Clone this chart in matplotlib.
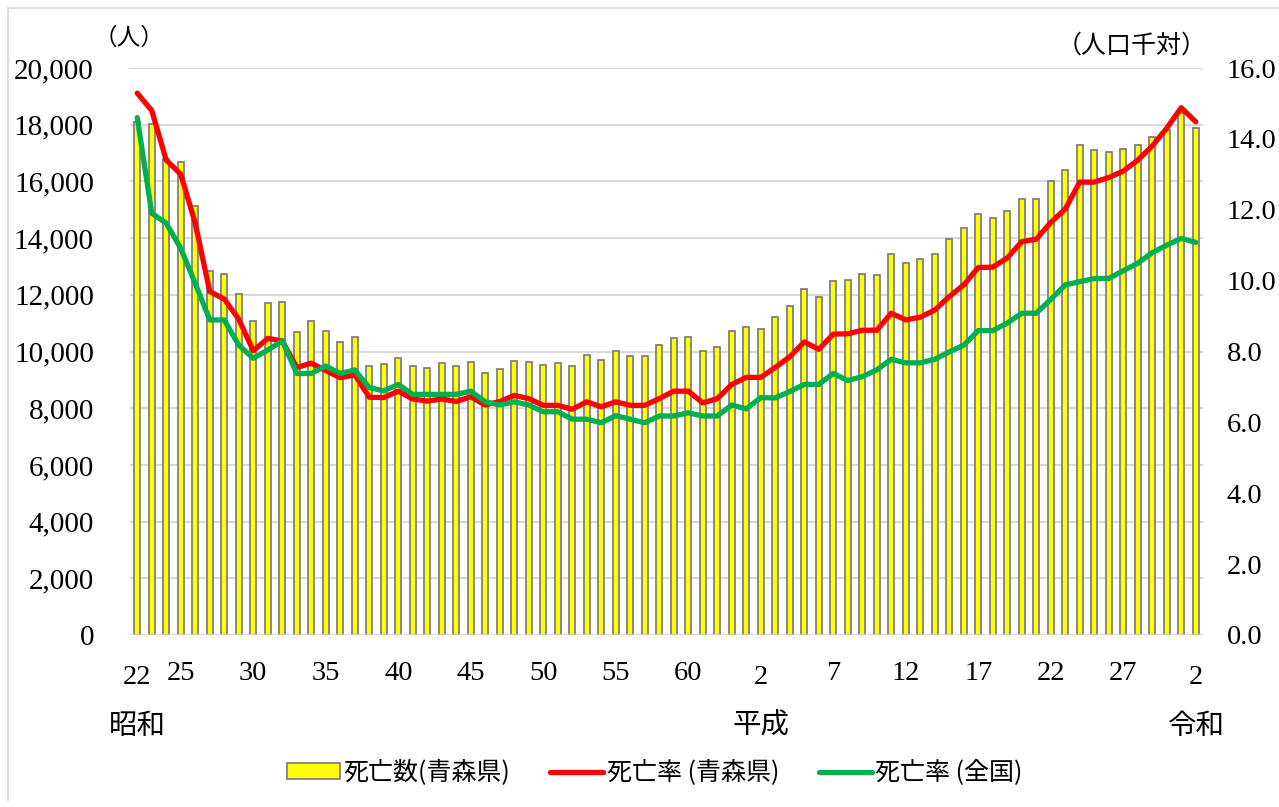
import matplotlib
matplotlib.use("Agg")
import matplotlib.pyplot as plt
import matplotlib.transforms as mtransforms
from matplotlib.patches import Patch
from matplotlib.lines import Line2D
import numpy as np

# ---------------- data ----------------
years = list(range(1947, 2021))  # 昭和22年 ～ 令和2年

deaths_aomori = [
    18080, 18020, 16800, 16690, 15130, 12850, 12720, 12030, 11060, 11720,
    11730, 10690, 11070, 10720, 10320, 10520, 9480, 9550, 9770, 9480,
    9430, 9590, 9500, 9640, 9250, 9400, 9680, 9620, 9540, 9600,
    9490, 9890, 9710, 10030, 9850, 9840, 10220, 10460, 10520, 10020,
    10170, 10730, 10870, 10780, 11220, 11600, 12190, 11920, 12490, 12530,
    12740, 12710, 13430, 13120, 13250, 13430, 13980, 14340, 14860, 14710,
    14960, 15380, 15370, 16010, 16410, 17270, 17100, 17030, 17130, 17290,
    17560, 17800, 18420, 17900,
]

rate_aomori = [
    15.29, 14.80, 13.40, 13.00, 11.62, 9.69, 9.48, 8.91, 8.02, 8.37,
    8.30, 7.55, 7.67, 7.46, 7.26, 7.34, 6.71, 6.70, 6.88, 6.66,
    6.60, 6.66, 6.59, 6.72, 6.49, 6.59, 6.76, 6.67, 6.48, 6.48,
    6.37, 6.58, 6.44, 6.58, 6.48, 6.48, 6.67, 6.88, 6.88, 6.55,
    6.67, 7.07, 7.27, 7.27, 7.55, 7.85, 8.27, 8.06, 8.49, 8.50,
    8.60, 8.60, 9.08, 8.89, 8.97, 9.17, 9.55, 9.88, 10.37, 10.38,
    10.64, 11.10, 11.17, 11.64, 12.02, 12.78, 12.78, 12.91, 13.09, 13.40,
    13.80, 14.30, 14.88, 14.48,
]

rate_japan = [
    14.60, 11.90, 11.62, 10.91, 9.92, 8.89, 8.89, 8.18, 7.81, 8.04,
    8.30, 7.38, 7.38, 7.59, 7.38, 7.48, 6.98, 6.89, 7.07, 6.79,
    6.79, 6.79, 6.79, 6.88, 6.58, 6.49, 6.58, 6.49, 6.30, 6.30,
    6.09, 6.09, 5.99, 6.19, 6.09, 5.99, 6.18, 6.18, 6.27, 6.18,
    6.18, 6.49, 6.38, 6.70, 6.69, 6.87, 7.07, 7.07, 7.38, 7.18,
    7.29, 7.48, 7.78, 7.68, 7.68, 7.78, 7.99, 8.18, 8.59, 8.59,
    8.80, 9.08, 9.08, 9.47, 9.88, 9.97, 10.06, 10.06, 10.28, 10.49,
    10.79, 11.00, 11.19, 11.08,
]

tick_years = [1947, 1950, 1955, 1960, 1965, 1970, 1975, 1980, 1985,
              1990, 1995, 2000, 2005, 2010, 2015, 2020]
tick_labels = ["22", "25", "30", "35", "40", "45", "50", "55", "60",
               "2", "7", "12", "17", "22", "27", "2"]
low_labels = {1947, 1990, 2020}   # labels drawn slightly lower in the original

era_years = [1947, 1990, 2020]
era_labels = ["昭和", "平成", "令和"]

left_ticks = [0, 2000, 4000, 6000, 8000, 10000, 12000, 14000, 16000, 18000, 20000]
right_ticks = [0, 2, 4, 6, 8, 10, 12, 14, 16]

legend_labels = ["死亡数(青森県)", "死亡率 (青森県)", "死亡率 (全国)"]

# ---------------- figure ----------------
W, H = 1279, 807
fig = plt.figure(figsize=(W / 100, H / 100), dpi=100)
fig.patch.set_facecolor("white")

def fx(px):
    return px / W

def fy(py):
    return 1 - py / H

cjk = ["Noto Sans CJK JP", "DejaVu Sans"]
serif = ["Liberation Serif", "DejaVu Serif"]

ax = fig.add_axes([fx(130), fy(635), fx(1203) - fx(130), fy(68) - fy(635)])
ax2 = ax.twinx()

x = np.arange(len(years))

ax.bar(x, deaths_aomori, width=0.42, color="#FFFF00", edgecolor="#808080",
       linewidth=1.3, zorder=3)
ax.set_xlim(-0.5, len(years) - 0.5)
ax.set_ylim(0, 20000)
ax.set_yticks(left_ticks)
ax.set_yticklabels([f"{v:,}" for v in left_ticks], fontfamily=serif, fontsize=21)
ax.tick_params(axis="y", length=0, pad=26)
ax.grid(axis="y", color="#D9D9D9", linewidth=1.5, zorder=0)
ax.set_axisbelow(True)
for s in ax.spines.values():
    s.set_visible(False)
ax.axhline(0, color="#D9D9D9", linewidth=1.8, zorder=4)
ax.set_xticks([])

ax2.set_ylim(0, 16)
ax2.set_yticks(right_ticks)
ax2.set_yticklabels([f"{v:.1f}" for v in right_ticks], fontfamily=serif, fontsize=20.5)
ax2.tick_params(axis="y", length=0, pad=17)
for s in ax2.spines.values():
    s.set_visible(False)

ax2.plot(x, rate_aomori, color="#FF0000", linewidth=3.8,
         solid_joinstyle="round", solid_capstyle="round", zorder=5)
ax2.plot(x, rate_japan, color="#00B050", linewidth=3.8,
         solid_joinstyle="round", solid_capstyle="round", zorder=6)

# x tick labels
trans = mtransforms.blended_transform_factory(ax.transData, fig.transFigure)
for yr, lab in zip(tick_years, tick_labels):
    i = years.index(yr)
    ypx = 678 if yr in low_labels else 673
    ax.text(i, fy(ypx), lab, transform=trans, ha="center", va="center",
            fontfamily=serif, fontsize=20.5, clip_on=False)

for yr, lab in zip(era_years, era_labels):
    i = years.index(yr)
    ax.text(i, fy(726), lab, transform=trans, ha="center", va="center",
            fontfamily=cjk, fontsize=20.5, clip_on=False)

# axis unit labels
fig.text(fx(129), fy(38), "（人）", ha="center", va="center",
         fontfamily=cjk, fontsize=17)
fig.text(fx(1132), fy(46), "（人口千対）", ha="center", va="center",
         fontfamily=cjk, fontsize=18)

# legend
handles = [
    Patch(facecolor="#FFFF00", edgecolor="#808080", linewidth=1.3),
    Line2D([0], [0], color="#FF0000", linewidth=3.8, solid_capstyle="round"),
    Line2D([0], [0], color="#00B050", linewidth=3.8, solid_capstyle="round"),
]
fig.legend(handles, legend_labels, loc="center", bbox_to_anchor=(fx(655), fy(773)),
           ncol=3, frameon=False, prop={"family": cjk, "size": 18},
           handlelength=2.1, handleheight=0.62, handletextpad=0.15,
           columnspacing=1.6)

# chart frame (light border)
fig.add_artist(Line2D([fx(8), fx(8)], [fy(8), fy(800)], color="#D9D9D9",
                      linewidth=1.2, transform=fig.transFigure))
fig.add_artist(Line2D([fx(8), fx(1279)], [fy(8), fy(8)], color="#D9D9D9",
                      linewidth=1.2, transform=fig.transFigure))

fig.savefig("out.png", dpi=100, facecolor="white")
